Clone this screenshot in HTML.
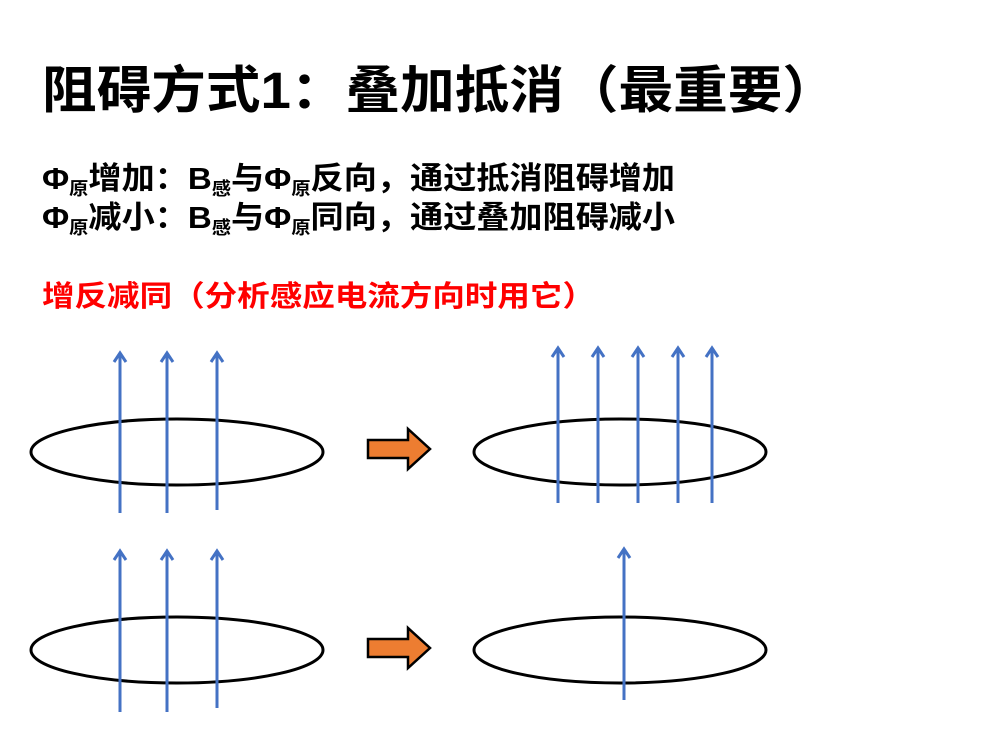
<!DOCTYPE html>
<html><head><meta charset="utf-8"><style>body{margin:0;background:#fff}svg{display:block}</style></head><body>
<svg width="982" height="734" viewBox="0 0 982 734" xmlns="http://www.w3.org/2000/svg">
<g font-family="Liberation Sans, Noto Sans CJK SC, sans-serif" font-weight="bold">
<text x="42" y="108" font-size="51" textLength="795" lengthAdjust="spacingAndGlyphs">阻碍方式1：叠加抵消（最重要）</text>
<text x="42" y="189" font-size="31" textLength="633" lengthAdjust="spacingAndGlyphs">Φ<tspan font-size="18" dy="6">原</tspan><tspan dy="-6">增加：B</tspan><tspan font-size="18" dy="6">感</tspan><tspan dy="-6">与Φ</tspan><tspan font-size="18" dy="6">原</tspan><tspan dy="-6">反向，通过抵消阻碍增加</tspan></text>
<text x="42" y="228" font-size="31" textLength="633" lengthAdjust="spacingAndGlyphs">Φ<tspan font-size="18" dy="6">原</tspan><tspan dy="-6">减小：B</tspan><tspan font-size="18" dy="6">感</tspan><tspan dy="-6">与Φ</tspan><tspan font-size="18" dy="6">原</tspan><tspan dy="-6">同向，通过叠加阻碍减小</tspan></text>
<text x="42" y="306" font-size="29" fill="#FF0000" textLength="553" lengthAdjust="spacingAndGlyphs">增反减同（分析感应电流方向时用它）</text>
</g>
<g fill="none" stroke="#000" stroke-width="3">
<ellipse cx="177" cy="452" rx="146" ry="33"/>
<ellipse cx="620" cy="452" rx="146" ry="33"/>
<ellipse cx="177" cy="650" rx="146" ry="33"/>
<ellipse cx="620" cy="650" rx="146" ry="33"/>
</g>
<g stroke="#4472C4" stroke-width="3" fill="none">
<path d="M120,513V353M114,362L120,353L126,362"/>
<path d="M167,513V353M161,362L167,353L173,362"/>
<path d="M217,510V353M211,362L217,353L223,362"/>
<path d="M558,503V348M552,357L558,348L564,357"/>
<path d="M598,503V348M592,357L598,348L604,357"/>
<path d="M638,503V348M632,357L638,348L644,357"/>
<path d="M678,503V348M672,357L678,348L684,357"/>
<path d="M712,503V348M706,357L712,348L718,357"/>
<path d="M120,712V551M114,560L120,551L126,560"/>
<path d="M167,712V551M161,560L167,551L173,560"/>
<path d="M217,708V551M211,560L217,551L223,560"/>
<path d="M624,700V549M618,558L624,549L630,558"/>
</g>
<g fill="#ED7D31" stroke="#000" stroke-width="2.5" stroke-linejoin="miter">
<path d="M368,440 H408 V429 L430,449 L408,469 V458 H368 Z"/>
<path d="M368,639 H408 V628 L430,648 L408,668 V657 H368 Z"/>
</g>
</svg>
</body></html>
